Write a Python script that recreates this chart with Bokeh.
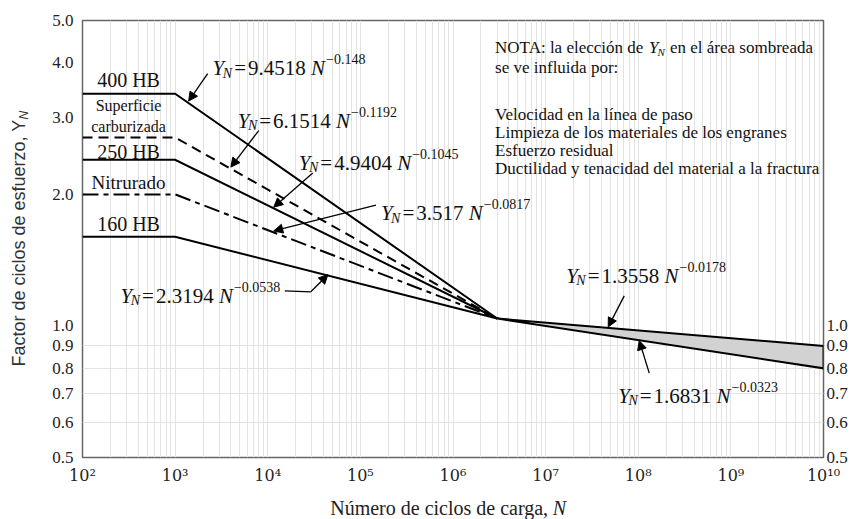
import math
from bokeh.plotting import figure
from bokeh.layouts import row, column
from bokeh.models import (ColumnDataSource, FixedTicker, Arrow, NormalHead,
                          PrintfTickFormatter, LogAxis)
from bokeh.core.properties import value, field
from bokeh.embed import file_html
from bokeh.resources import INLINE

# ---------------- data ----------------
N_MIN, N_KNEE, N_CONV, N_MAX = 1e2, 1e3, 3e6, 1e10
material_names = ["400 HB", "Superficie carburizada", "250 HB", "Nitrurado", "160 HB"]
flat_yn = [3.40, 2.70, 2.40, 2.00, 1.60]          # Y_N on the flat part (N <= 1e3)
conv_yn = 1.04                                    # common point at N = 3e6
long_life_upper_end = 0.90                        # Y_N = 1.3558 N^-0.0178 at 1e10
long_life_lower_end = 0.80                        # Y_N = 1.6831 N^-0.0323 at 1e10
eq_coefs = ["9.4518", "6.1514", "4.9404", "3.517", "2.3194", "1.3558", "1.6831"]
eq_exps = ["0.148", "0.1192", "0.1045", "0.0817", "0.0538", "0.0178", "0.0323"]
x_tick_values = [1e2, 1e3, 1e4, 1e5, 1e6, 1e7, 1e8, 1e9, 1e10]
x_tick_labels = ["10\u00b2", "10\u00b3", "10\u2074", "10\u2075", "10\u2076",
                 "10\u2077", "10\u2078", "10\u2079", "10\u00b9\u2070"]
y_ticks_left = [0.5, 0.6, 0.7, 0.8, 0.9, 1.0, 2.0, 3.0, 4.0, 5.0]
y_ticks_right = [0.5, 0.6, 0.7, 0.8, 0.9, 1.0]
x_title_main, x_title_var = "N\u00famero de ciclos de carga,", "N"
y_title_main, y_title_sub = "Factor de ciclos de esfuerzo, Y", "N"
note_first_prefix = "NOTA: la elecci\u00f3n de "
note_first_suffix = "en el \u00e1rea sombreada"
note_lines = ["se ve influida por:",
              "Velocidad en la l\u00ednea de paso",
              "Limpieza de los materiales de los engranes",
              "Esfuerzo residual",
              "Ductilidad y tenacidad del material a la fractura"]

# ---------------- styles / layout ----------------
SERIF = "Liberation Serif"
SANS = "Liberation Sans"
line_dashes = ["solid", "10 6", "solid", "16 5 5 5", "solid"]
W, H = 858, 519
YLAB_W, XLAB_H = 40, 32

p = figure(width=W - YLAB_W, height=H - XLAB_H, x_axis_type="log", y_axis_type="log",
           x_range=(N_MIN, N_MAX), y_range=(0.5, 5.0),
           output_backend="svg", toolbar_location=None,
           min_border_left=42, min_border_right=35, min_border_top=20, min_border_bottom=30)
p.background_fill_color = "white"
p.border_fill_color = "white"
p.outline_line_color = "#666666"
p.outline_line_width = 1.5

# grid (faint log paper)
minor_x = [k * 10.0 ** d for d in range(2, 10) for k in range(2, 10)]
p.xaxis.ticker = FixedTicker(ticks=x_tick_values, minor_ticks=minor_x)
p.xgrid.grid_line_color = "#e3e3e3"
p.xgrid.minor_grid_line_color = "#e3e3e3"
p.ygrid.ticker = FixedTicker(ticks=[0.6, 0.7, 0.8, 0.9])
p.ygrid.grid_line_color = "#e3e3e3"

# axes
p.xaxis.major_label_overrides = dict(zip(x_tick_values, x_tick_labels))
p.xaxis.major_label_text_font = "DejaVu Serif"
p.xaxis.major_label_text_font_size = "16px"
p.xaxis.major_label_text_color = "#222222"
p.xaxis.major_label_standoff = 8

p.yaxis.ticker = FixedTicker(ticks=y_ticks_left)
p.yaxis.formatter = PrintfTickFormatter(format="%.1f")
p.yaxis.major_label_text_font = SERIF
p.yaxis.major_label_text_font_size = "17px"
p.yaxis.major_label_text_color = "#222222"
p.yaxis.major_label_standoff = 9

ra = LogAxis(ticker=FixedTicker(ticks=y_ticks_right), formatter=PrintfTickFormatter(format="%.1f"))
ra.major_label_text_font = SERIF
ra.major_label_text_font_size = "17px"
ra.major_label_text_color = "#222222"
ra.major_label_standoff = 3
p.add_layout(ra, "right")

for ax in [p.xaxis[0], p.yaxis[0], ra]:
    ax.axis_line_color = None
    ax.major_tick_line_color = None
    ax.minor_tick_line_color = None
    ax.major_tick_out = 0
    ax.major_tick_in = 0
    ax.minor_tick_out = 0
    ax.minor_tick_in = 0

# ---------------- curves ----------------
for i, yv in enumerate(flat_yn):
    p.line([N_MIN, N_KNEE, N_CONV], [yv, yv, conv_yn], line_color="black",
           line_width=2, line_dash=line_dashes[i], line_join="miter")

p.patch([N_CONV, N_MAX, N_MAX], [conv_yn, long_life_upper_end, long_life_lower_end],
        fill_color="#d2d2d2", line_color="black", line_width=2, line_join="miter")

# ---------------- texts ----------------
TW = {d: 0.5 for d in "0123456789"}
TW.update({'.': 0.25, ' ': 0.25, '=': 0.564, '\u2212': 0.564, ':': 0.278, 'N': 0.722,
           'O': 0.722, 'T': 0.611, 'A': 0.722, 'l': 0.278, 'a': 0.444, 'e': 0.444,
           'c': 0.444, 'i': 0.278, '\u00f3': 0.5, 'n': 0.5, 'd': 0.5, 'o': 0.5})


def tw(s):
    return sum(TW.get(ch, 0.5) for ch in s)


rows = dict(x=[], y=[], text=[], xo=[], yo=[], size=[], style=[])


def add(x, y, text, xo, yo, size, style="normal"):
    rows["x"].append(x); rows["y"].append(y); rows["text"].append(text)
    rows["xo"].append(xo); rows["yo"].append(yo)
    rows["size"].append(f"{size}px"); rows["style"].append(style)


def equation(x, y, coef, exp, fs=21, ss=14):
    base = 7
    add(x, y, "Y", 0, base, fs, "italic")
    c = 0.556 * fs - 1.5
    add(x, y, "N", c, base + 5, ss, "italic")
    c += 0.667 * ss + 2
    add(x, y, "=", c, base, fs)
    c += 0.564 * fs + 2
    add(x, y, coef, c, base, fs)
    c += tw(coef) * fs + 0.25 * fs
    add(x, y, "N", c, base, fs, "italic")
    c += 0.667 * fs + 1
    add(x, y, "\u2212" + exp, c, base - 9, ss)


# equation anchors (left edge, vertical centre) in data coordinates
eq_pos = [(2540, 4.03), (4742, 3.06), (21630, 2.45), (166700, 1.88),
          (257.6, 1.216), (1.667e7, 1.352), (6.08e7, 0.718)]
for (ex, ey), cf, xp in zip(eq_pos, eq_coefs, eq_exps):
    equation(ex, ey, cf, xp)

# note block
note_x = 2.845e6
note_y = [4.45, 4.01, 3.13, 2.84, 2.59, 2.35]
fsn, ssn, bn = 17, 11, 5
add(note_x, note_y[0], note_first_prefix, 0, bn, fsn)
c = tw(note_first_prefix) * fsn
add(note_x, note_y[0], "Y", c, bn, fsn, "italic")
c += 0.556 * fsn - 1
add(note_x, note_y[0], "N", c, bn + 4, ssn, "italic")
c += 0.667 * ssn + 0.25 * fsn + 1
add(note_x, note_y[0], note_first_suffix, c, bn, fsn)
for txt, yy in zip(note_lines, note_y[1:]):
    add(note_x, yy, txt, 0, bn, fsn)

src = ColumnDataSource(rows)
p.text(x="x", y="y", text="text", x_offset="xo", y_offset="yo", source=src,
       text_font=value(SERIF), text_font_size=field("size"), text_font_style=field("style"),
       text_align="left", text_baseline="alphabetic", text_color="#111111")

# material labels
mat_label_texts = ["400 HB", "Superficie", "carburizada", "250 HB", "Nitrurado", "160 HB"]
mat_label_y = [3.645, 3.19, 2.86, 2.50, 2.13, 1.71]
mat_label_size = ["20px", "16px", "16px", "20px", "19px", "20px"]
msrc = ColumnDataSource(dict(x=[314] * len(mat_label_texts), y=mat_label_y,
                             text=mat_label_texts, size=mat_label_size))
p.text(x="x", y="y", text="text", source=msrc, text_font=value(SERIF),
       text_font_size=field("size"), text_align="center", text_baseline="middle",
       text_color="#111111")

# arrows (tail -> head) in data coordinates
arrows = [((2244, 3.78), (1400, 3.27)),
          ((8000, 2.80), (4000, 2.31)),
          ((30600, 2.24), (11600, 1.87)),
          ((147200, 1.89), (11600, 1.65)),
          ((29170, 1.197), (44560, 1.31)),
          ((7.06e7, 1.172), (4.74e7, 0.995)),
          ((1.315e8, 0.78), (1.026e8, 0.925))]
for (xs, ys), (xe, ye) in arrows:
    p.add_layout(Arrow(end=NormalHead(size=9, fill_color="black", line_color="black", line_width=1),
                       x_start=xs, y_start=ys, x_end=xe, y_end=ye,
                       line_color="black", line_width=1.3))
# leader from the 2.3194 equation
p.line([15280, 29170], [1.203, 1.197], line_color="black", line_width=1.3)


# ---------------- axis titles (strips beside the plot) ----------------
def strip(w, h):
    f = figure(width=w, height=h, x_range=(0, w), y_range=(0, h), output_backend="svg",
               toolbar_location=None, x_axis_location=None, y_axis_location=None,
               min_border=0, outline_line_color=None)
    f.grid.grid_line_color = None
    f.background_fill_color = "white"
    f.border_fill_color = "white"
    return f


ylab = strip(YLAB_W, H)
ylab.text(x=[18], y=[H - 119], text=[y_title_main], angle=math.pi / 2,
          text_align="right", text_baseline="middle", text_font=value(SANS),
          text_font_size="18px", text_color="#333333")
ylab.text(x=[23], y=[H - 119], text=[y_title_sub], angle=math.pi / 2,
          text_align="left", text_baseline="middle", text_font=value(SANS),
          text_font_style="italic", text_font_size="12px", text_color="#333333")

xlab = strip(W - YLAB_W, XLAB_H)
x_split = 559 - YLAB_W
xlab.text(x=[x_split - 5], y=[12], text=[x_title_main], text_align="right",
          text_baseline="middle", text_font=value(SERIF), text_font_size="20px",
          text_color="#222222")
xlab.text(x=[x_split], y=[12], text=[x_title_var], text_align="left",
          text_baseline="middle", text_font=value(SERIF), text_font_style="italic",
          text_font_size="20px", text_color="#222222")

layout = row(ylab, column(p, xlab, spacing=0), spacing=0)
open("out.html", "w").write(file_html(layout, INLINE))
